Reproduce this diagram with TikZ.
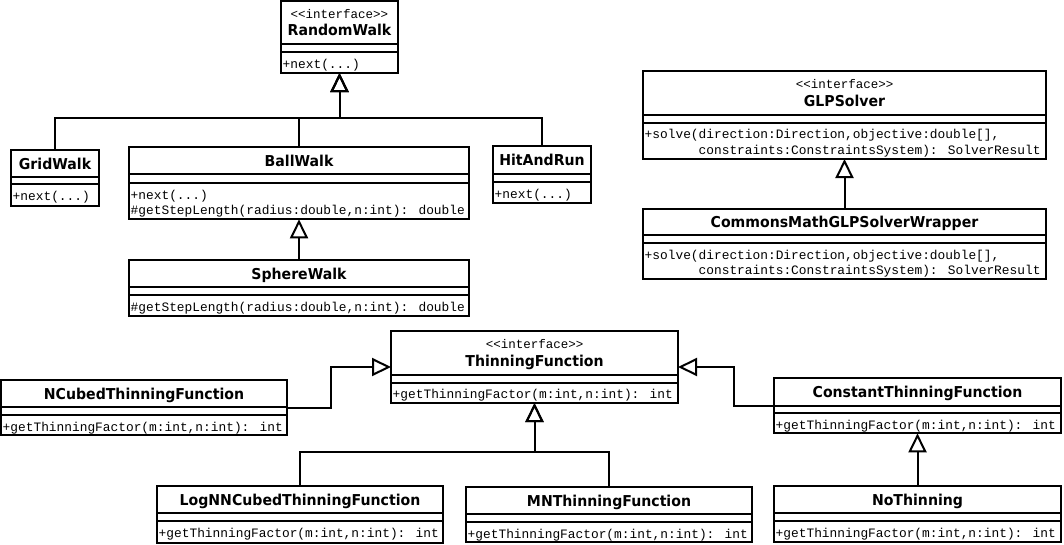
\documentclass[tikz,border=0pt]{standalone}
\usepackage{fontspec}
\usetikzlibrary{arrows.meta,calc}
\newfontfamily\titlef{DejaVu Sans}[FakeStretch=0.94]
\newfontfamily\monof{Liberation Mono}
\tikzset{
  clsbox/.style={draw, line width=2pt, inner sep=0pt, outer sep=0pt, fill=white},
  sepline/.style={line width=2pt},
  ttl/.style={font=\titlef\bfseries\fontsize{15}{18}\selectfont, inner sep=0pt, anchor=base},
  ster/.style={font=\monof\fontsize{12.5}{15}\selectfont, inner sep=0pt, anchor=base},
  mth/.style={font=\monof\fontsize{12.85}{15}\selectfont, inner sep=0pt, anchor=base west},
  gen/.style={line width=2pt, -{Triangle[open,length=19pt,width=18pt]}}
}
% #1 name, #2 x1, #3 y1, #4 x2, #5 y2, #6 sep1, #7 sep2
\newcommand{\umlcls}[7]{%
  \node[clsbox, anchor=north west, minimum width={#4pt-#2pt}, minimum height={#5pt-#3pt}] (#1) at (#2,#3) {};
  \draw[sepline] (#2,#6) -- (#4,#6);
  \draw[sepline] (#2,#7) -- (#4,#7);
}
\begin{document}
\begin{tikzpicture}[x=1pt,y=-1pt]
\useasboundingbox (0,0) rectangle (1064,544);
\fill[white] (0,0) rectangle (1064,544);

% ---------- RandomWalk hierarchy ----------
\umlcls{rw}{281}{1}{398}{73}{44.3}{52.3}
\node[ster] (rw-s) at (339.5,18.5) {<<interface>>};
\node[ttl] (rw-t) at (339.5,35.3) {RandomWalk};
\node[mth] (rw-m) at (282.5,68.3) {+next(...)};

\umlcls{gw}{11}{150}{99}{206}{177}{184}
\node[ttl] (gw-t) at (55,169) {GridWalk};
\node[mth] (gw-m) at (12.5,200) {+next(...)};

\umlcls{bw}{129}{147}{469}{219.3}{174.3}{183}
\node[ttl] (bw-t) at (299,166.2) {BallWalk};
\node[mth] (bw-m1) at (130.5,199) {+next(...)};
\node[mth] (bw-m2) at (130.5,214.5) {\#getStepLength(radius:double,n:int): double};

\umlcls{sw}{129}{260}{469}{316}{287.3}{295}
\node[ttl] (sw-t) at (299,279.2) {SphereWalk};
\node[mth] (sw-m) at (130.5,311) {\#getStepLength(radius:double,n:int): double};

\umlcls{hr}{493}{146}{591}{203}{174.3}{182}
\node[ttl] (hr-t) at (542,165.7) {HitAndRun};
\node[mth] (hr-m) at (494.5,198) {+next(...)};

\draw[gen] (gw.north) |- ($(rw.south)+(0,45)$) -- (rw.south);
\draw[gen] (bw.north) |- ($(rw.south)+(0,45)$) -- (rw.south);
\draw[gen] (hr.north) |- ($(rw.south)+(0,45)$) -- (rw.south);
\draw[gen] (sw.north) -- (bw.south);

% ---------- GLPSolver ----------
\umlcls{glp}{643}{71}{1046}{159}{115}{122.7}
\node[ster] (glp-s) at (844.5,88.5) {<<interface>>};
\node[ttl] (glp-t) at (844.5,106) {GLPSolver};
\node[mth] (glp-m1) at (644.5,138.7) {+solve(direction:Direction,objective:double[],};
\node[mth] (glp-m2) at (644.5,154.2) {\phantom{+solve(}constraints:ConstraintsSystem): SolverResult};

\umlcls{cm}{643}{209}{1046}{279}{235}{243.3}
\node[ttl] (cm-t) at (844.5,227.5) {CommonsMathGLPSolverWrapper};
\node[mth] (cm-m1) at (644.5,259.3) {+solve(direction:Direction,objective:double[],};
\node[mth] (cm-m2) at (644.5,274.8) {\phantom{+solve(}constraints:ConstraintsSystem): SolverResult};

\draw[gen] (cm.north) -- (glp.south);

% ---------- ThinningFunction hierarchy ----------
\umlcls{tf}{391}{331}{678}{403}{375}{382.7}
\node[ster] (tf-s) at (534.5,348.5) {<<interface>>};
\node[ttl] (tf-t) at (534.5,366) {ThinningFunction};
\node[mth] (tf-m) at (392.5,398.7) {+getThinningFactor(m:int,n:int): int};

\umlcls{nc}{1}{380}{287}{435}{407.3}{415}
\node[ttl] (nc-t) at (144,399.2) {NCubedThinningFunction};
\node[mth] (nc-m) at (2.5,431) {+getThinningFactor(m:int,n:int): int};

\umlcls{ct}{774}{378}{1061}{433.3}{405.7}{413.3}
\node[ttl] (ct-t) at (917.5,397.4) {ConstantThinningFunction};
\node[mth] (ct-m) at (775.5,429.3) {+getThinningFactor(m:int,n:int): int};

\umlcls{ln}{157}{486}{443}{543}{513.3}{521}
\node[ttl] (ln-t) at (300,505.2) {LogNNCubedThinningFunction};
\node[mth] (ln-m) at (158.5,537) {+getThinningFactor(m:int,n:int): int};

\umlcls{mn}{466}{486.7}{752}{542.3}{514.3}{522}
\node[ttl] (mn-t) at (609,506) {MNThinningFunction};
\node[mth] (mn-m) at (467.5,538) {+getThinningFactor(m:int,n:int): int};

\umlcls{nt}{774}{486}{1061}{542.3}{513.3}{521}
\node[ttl] (nt-t) at (917.5,505.2) {NoThinning};
\node[mth] (nt-m) at (775.5,537) {+getThinningFactor(m:int,n:int): int};

\draw[gen] (nc.east) -- ++(44,0) |- (tf.west);
\draw[gen] (ct.west) -- ++(-40,0) |- (tf.east);
\draw[gen] (ln.north) |- ($(tf.south)+(0,49)$) -- (tf.south);
\draw[gen] (mn.north) |- ($(tf.south)+(0,49)$) -- (tf.south);
\draw[gen] (nt.north) -- (ct.south);
\end{tikzpicture}
\end{document}
